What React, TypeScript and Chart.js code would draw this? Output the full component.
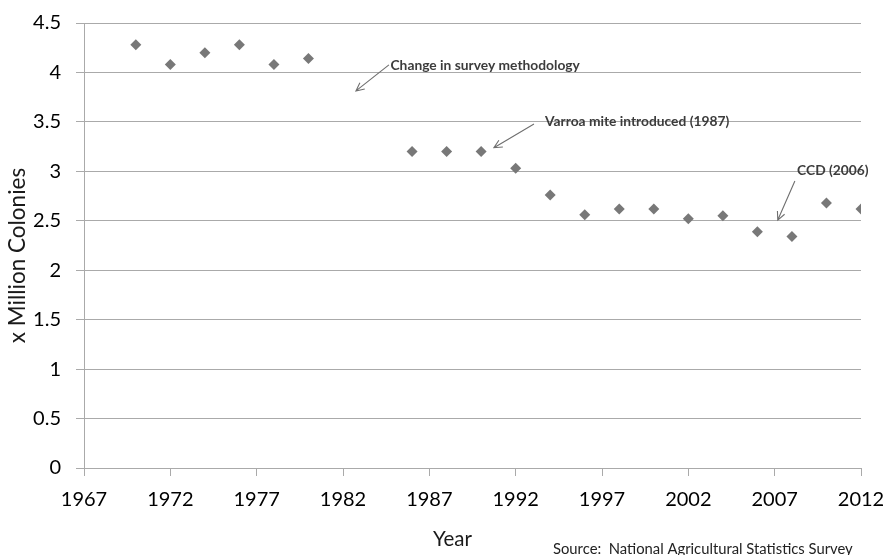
import React, { useEffect, useRef } from 'react';
import { Chart, registerables } from 'chart.js';

Chart.register(...registerables);

// ---- data ----
const years = [1970, 1972, 1974, 1976, 1978, 1980, 1986, 1988, 1990, 1992, 1994, 1996, 1998, 2000, 2002, 2004, 2006, 2008, 2010, 2012];
const colonies = [4.28, 4.08, 4.2, 4.28, 4.08, 4.14, 3.2, 3.2, 3.2, 3.03, 2.76, 2.56, 2.62, 2.62, 2.52, 2.55, 2.39, 2.34, 2.68, 2.62];

const xMin = 1967;
const xMax = 2012;
const xStep = 5;
const yMin = 0;
const yMax = 4.5;
const yStep = 0.5;

const xTitle = 'Year';
const yTitle = 'x Million Colonies';
const sourceText = 'Source:  National Agricultural Statistics Survey';

// annotations (in data units)
const noteTexts = ['Change in survey methodology', 'Varroa mite introduced (1987)', 'CCD (2006)'];
const noteX = [1984.75, 1993.7, 2008.3];
const noteY = [4.07, 3.5, 3.005];
const arrowTailX = [1984.66, 1993.06, 2008.17];
const arrowTailY = [4.076, 3.479, 2.902];
const arrowTipX = [1982.75, 1990.74, 2007.18];
const arrowTipY = [3.813, 3.239, 2.507];

const gridColor = '#aaaaaa';
const markerColor = '#787878';

const overlayPlugin = {
  id: 'overlay',
  afterDraw(chart: any) {
    const ctx = chart.ctx as CanvasRenderingContext2D;
    const xs = chart.scales.x;
    const ys = chart.scales.y;
    const area = chart.chartArea;
    ctx.save();

    // arrows
    ctx.strokeStyle = '#6f6f6f';
    ctx.lineWidth = 1.1;
    for (let i = 0; i < noteTexts.length; i++) {
      const x1 = xs.getPixelForValue(arrowTailX[i]);
      const y1 = ys.getPixelForValue(arrowTailY[i]);
      const x2 = xs.getPixelForValue(arrowTipX[i]);
      const y2 = ys.getPixelForValue(arrowTipY[i]);
      ctx.beginPath();
      ctx.moveTo(x1, y1);
      ctx.lineTo(x2, y2);
      const ang = Math.atan2(y2 - y1, x2 - x1);
      const hl = 9;
      const spread = 0.45;
      ctx.moveTo(x2 - hl * Math.cos(ang - spread), y2 - hl * Math.sin(ang - spread));
      ctx.lineTo(x2, y2);
      ctx.lineTo(x2 - hl * Math.cos(ang + spread), y2 - hl * Math.sin(ang + spread));
      ctx.stroke();
    }

    // annotation texts
    ctx.fillStyle = '#3c3c3c';
    ctx.font = 'bold 13.8px Lato';
    ctx.textAlign = 'left';
    ctx.textBaseline = 'middle';
    for (let i = 0; i < noteTexts.length; i++) {
      ctx.fillText(noteTexts[i], xs.getPixelForValue(noteX[i]), ys.getPixelForValue(noteY[i]));
    }

    // axis titles
    ctx.fillStyle = '#1a1a1a';
    ctx.font = '20.5px Lato';
    ctx.textAlign = 'center';
    ctx.textBaseline = 'middle';
    ctx.fillText(xTitle, (area.left + area.right) / 2 - 20, area.bottom + 71);

    ctx.save();
    ctx.font = '22.5px Lato';
    ctx.translate(18, (area.top + area.bottom) / 2 + 10);
    ctx.rotate(-Math.PI / 2);
    ctx.fillText(yTitle, 0, 0);
    ctx.restore();

    // source
    ctx.font = '14.8px Lato';
    ctx.fillStyle = '#222222';
    ctx.textAlign = 'left';
    ctx.fillText(sourceText, 553, area.bottom + 81);

    ctx.restore();
  },
};

export default function App() {
  const ref = useRef<HTMLCanvasElement>(null);
  useEffect(() => {
    document.body.style.margin = '0';
    const chart = new Chart(ref.current!, {
      type: 'scatter',
      data: {
        datasets: [
          {
            data: years.map((yr, i) => ({ x: yr, y: colonies[i] })),
            pointStyle: 'rectRot',
            pointRadius: 5.5,
            pointHoverRadius: 5.5,
            backgroundColor: markerColor,
            borderColor: markerColor,
            borderWidth: 0,
          },
        ],
      },
      options: {
        animation: false,
        responsive: false,
        layout: { padding: { top: 23, right: 25, left: 0, bottom: 0 } },
        plugins: { legend: { display: false }, tooltip: { enabled: false } },
        scales: {
          x: {
            type: 'linear',
            min: xMin,
            max: xMax,
            afterFit: (s: any) => {
              s.height = 87;
              s.paddingLeft = 0;
              s.paddingRight = 0;
            },
            ticks: {
              stepSize: xStep,
              autoSkip: false,
              maxRotation: 0,
              padding: 12,
              color: '#000000',
              font: { family: 'Lato', size: 20 },
              callback: (v: any) => String(v),
            },
            grid: {
              drawOnChartArea: false,
              drawTicks: true,
              tickLength: 8,
              color: gridColor,
            },
            border: { color: gridColor, width: 1 },
          },
          y: {
            min: yMin,
            max: yMax,
            afterFit: (s: any) => {
              s.width = 84;
              s.paddingTop = 0;
              s.paddingBottom = 0;
            },
            ticks: {
              stepSize: yStep,
              padding: 15,
              color: '#000000',
              font: { family: 'Lato', size: 20 },
              callback: (v: any) => String(v),
            },
            grid: {
              color: gridColor,
              lineWidth: 1,
              tickLength: 8,
              drawTicks: true,
            },
            border: { color: gridColor, width: 1 },
          },
        },
      },
      plugins: [overlayPlugin],
    });
    return () => chart.destroy();
  }, []);
  return (
    <div style={{ position: 'fixed', left: 0, top: 0, width: 886, height: 555, background: '#ffffff' }}>
      <canvas ref={ref} width={886} height={555} style={{ width: 886, height: 555 }} />
    </div>
  );
}
